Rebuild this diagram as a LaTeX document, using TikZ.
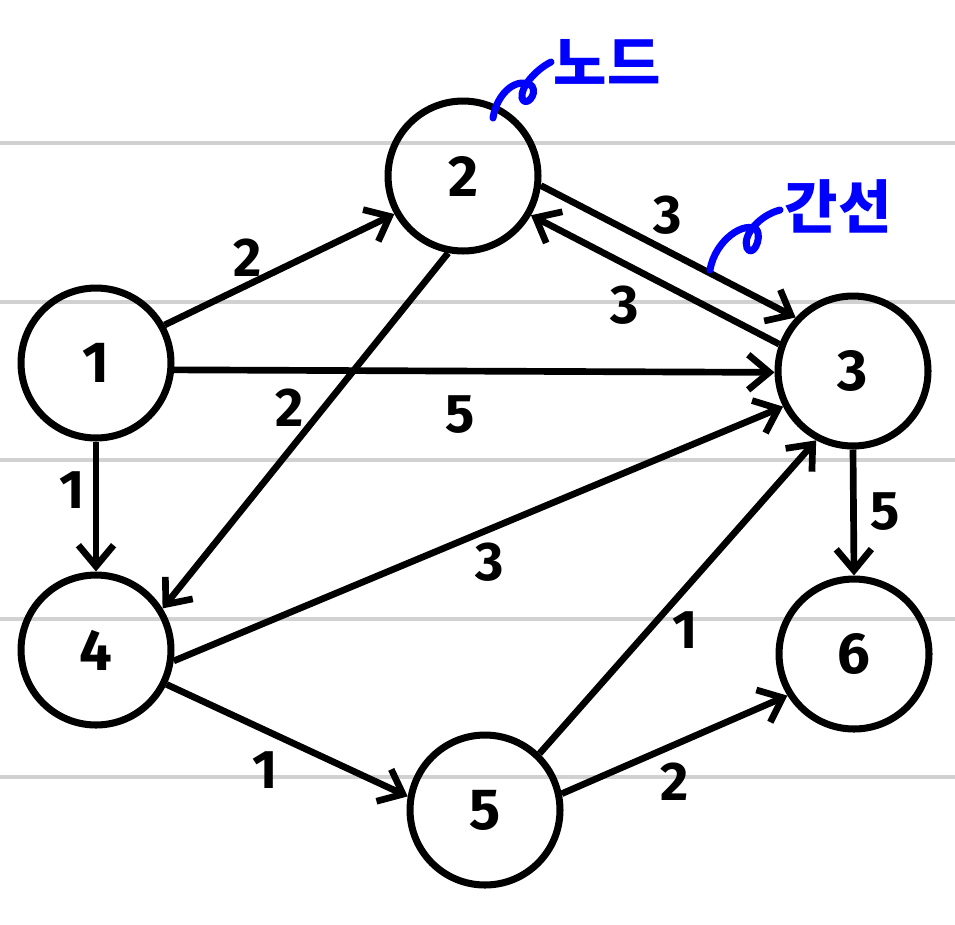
\documentclass[tikz,border=0pt]{standalone}
\usepackage{fontspec}
\setmainfont{Fira Sans}
\newfontfamily\krfont{Noto Sans CJK KR}
\usetikzlibrary{arrows.meta}
\tikzset{
  vertex/.style={draw, circle, line width=4pt, minimum size=3cm, inner sep=0pt,
    font=\bfseries\fontsize{33}{40}\selectfont},
  edge/.style={line width=3.8pt, -{Straight Barb[length=12pt, width=20pt, line width=3.8pt]}},
  weight/.style={font=\bfseries\fontsize{31}{37}\selectfont},
  note/.style={text=blue, font=\krfont\bfseries\fontsize{33}{40}\selectfont},
  curl/.style={draw=blue, line width=4pt, line cap=round, line join=round},
  ruled/.style={draw=black!18, line width=2pt}
}
\begin{document}
\begin{tikzpicture}[x=0.02cm, y=-0.02cm]
\useasboundingbox (0,0) rectangle (955,924);
% ruled paper
\foreach \y in {143,302,460,619,777}
  \draw[ruled] (0,\y) -- (955,\y);
% vertices
\node[vertex] (n1) at (96,363) {1};
\node[vertex] (n2) at (463,176) {2};
\node[vertex] (n3) at (853,371) {3};
\node[vertex] (n4) at (96,650) {4};
\node[vertex] (n5) at (485,810) {5};
\node[vertex] (n6) at (854,654) {6};
% edges
\draw[edge] (n1.29) -- (n2.209);
\draw[edge] (n1.-5) -- (n3.181);
\draw[edge] (n1.-90) -- (n4.90);
\draw[edge] (n2.-101) -- (n4.32);
\draw[edge] (n2.-7) -- (n3.137);
\draw[edge] (n3.160) -- (n2.-30);
\draw[edge] (n4.-8) -- (n3.207);
\draw[edge] (n4.-26) -- (n5.170);
\draw[edge] (n5.46) -- (n3.242);
\draw[edge] (n5.12) -- (n6.212);
\draw[edge] (n3.-90) -- (n6.90);
% weights
\node[weight] (w12) at (248,258) {2};
\node[weight] (w13) at (460,415) {5};
\node[weight] (w14) at (72,490) {1};
\node[weight] (w23) at (668,215) {3};
\node[weight] (w32) at (625,305) {3};
\node[weight] (w24) at (290,408) {2};
\node[weight] (w43) at (490,562) {3};
\node[weight] (w45) at (265,770) {1};
\node[weight] (w53) at (685,630) {1};
\node[weight] (w56) at (675,782) {2};
\node[weight] (w36) at (885,512) {5};
% notes
\node[note] (nodenote) at (607,62) {노드};
\node[note] (edgenote) at (838,206) {간선};
\draw[curl] (493,118) .. controls (497,92) and (518,76) .. (532,86)
  .. controls (538,95) and (525,108) .. (522,98)
  .. controls (520,88) and (535,70) .. (551,62);
\draw[curl] (710,270) .. controls (715,240) and (745,220) .. (757,230)
  .. controls (762,240) and (752,258) .. (747,248)
  .. controls (742,235) and (760,215) .. (780,210);
\end{tikzpicture}
\end{document}
